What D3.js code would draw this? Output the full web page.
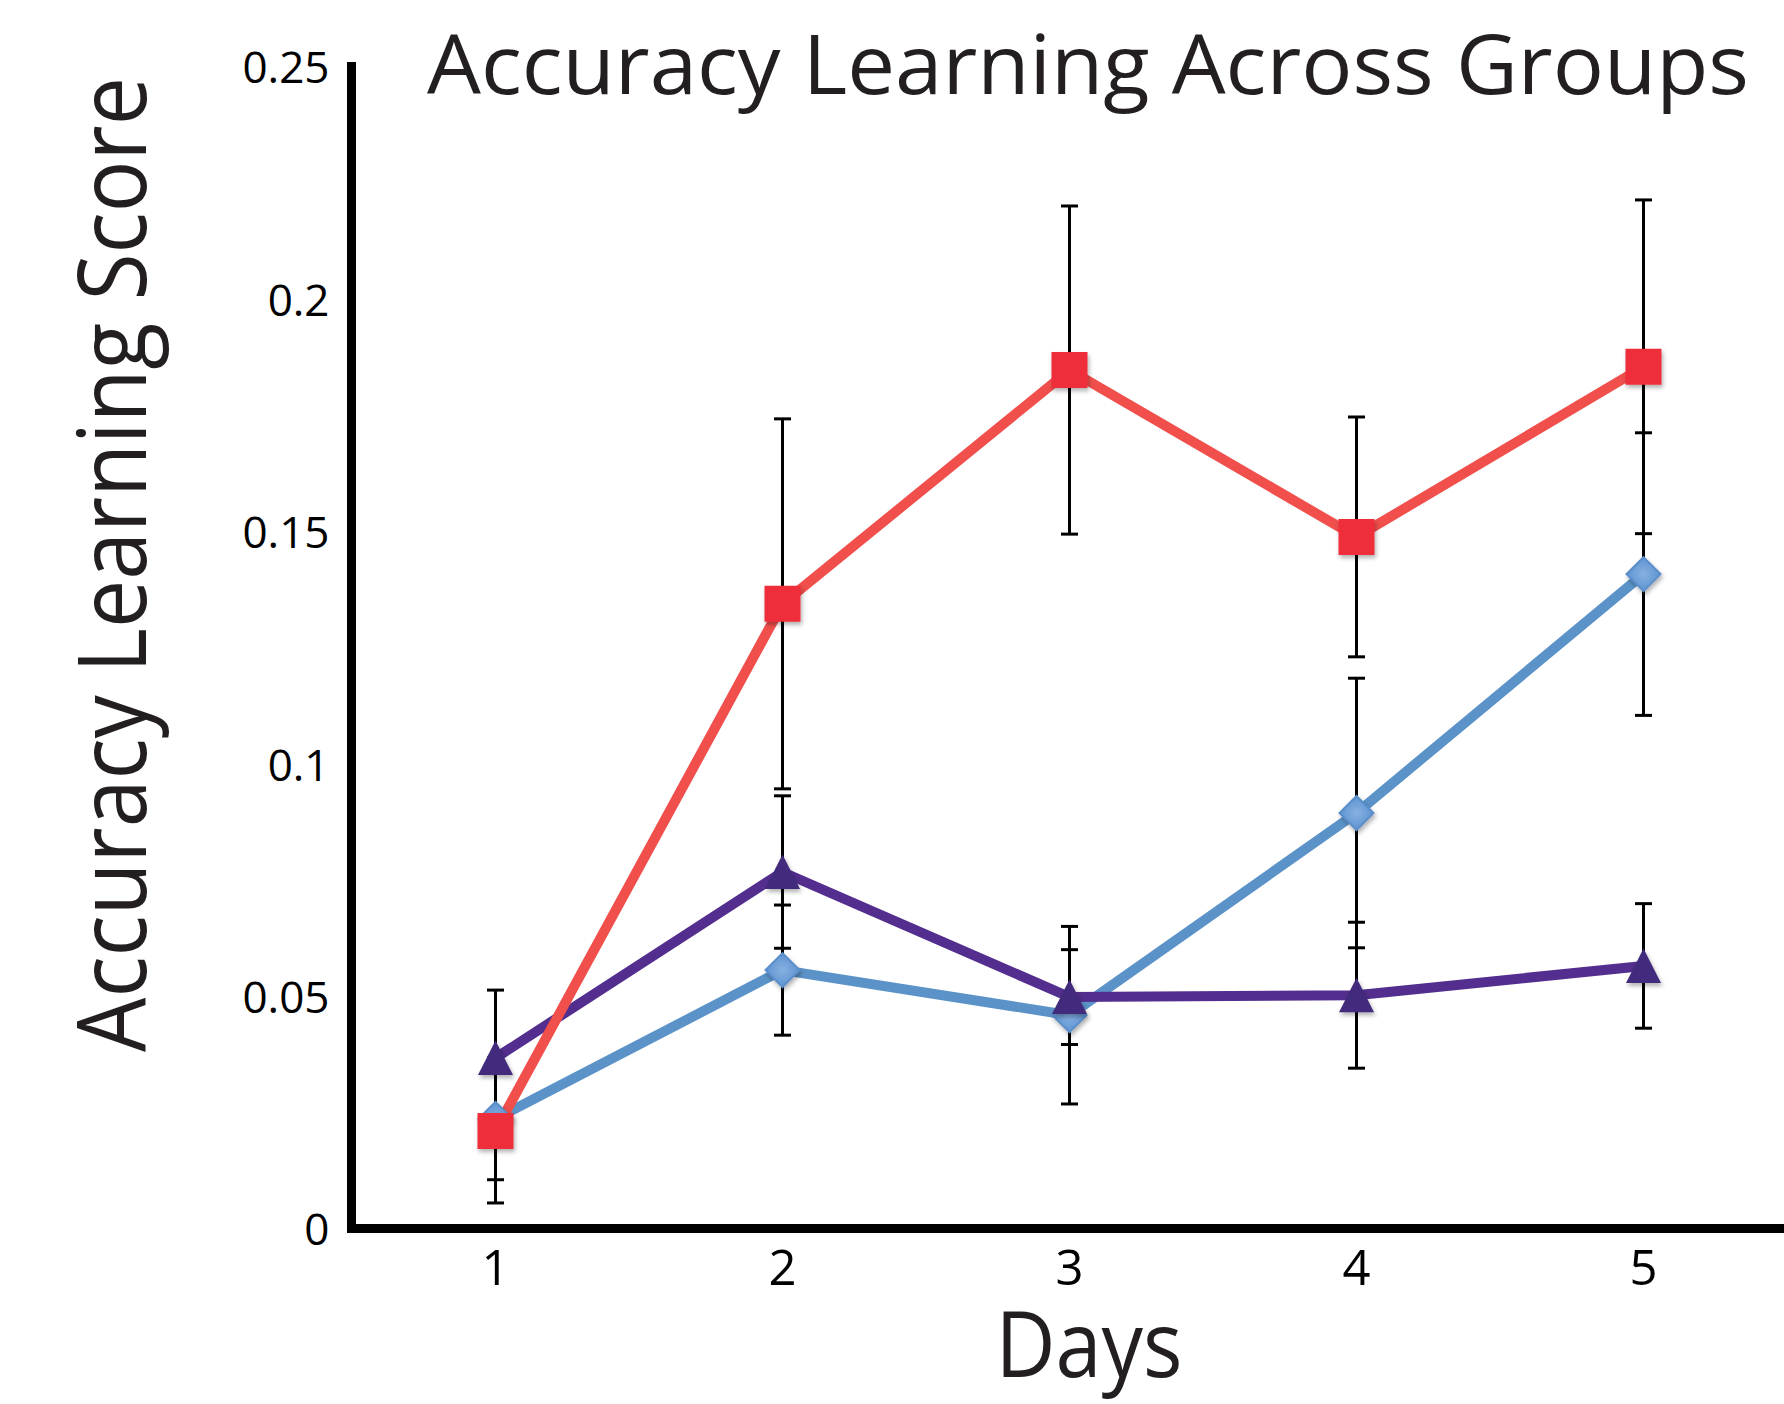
<!DOCTYPE html>
<html>
<head>
<meta charset="utf-8">
<script src="https://cdn.jsdelivr.net/npm/d3@7"></script>
<style>
  html, body { margin: 0; padding: 0; background: #fff; }
  svg { display: block; font-family: "Open Sans", "Noto Sans", sans-serif; }
</style>
</head>
<body>
<div id="chart"></div>
<script>
// Values
const days = [1, 2, 3, 4, 5];
const yTicks = [0, 0.05, 0.1, 0.15, 0.2, 0.25];
const yTickLabels = ['0', '0.05', '0.1', '0.15', '0.2', '0.25'];

const redMeans = [0.0211, 0.1345, 0.1848, 0.1489, 0.1855];
const redErr = [0.0155, 0.0398, 0.0353, 0.0258, 0.0359];
const blueMeans = [0.0237, 0.0557, 0.0460, 0.0895, 0.1409];
const blueErr = [0.0131, 0.0140, 0.0191, 0.0290, 0.0304];
const purpleMeans = [0.0368, 0.0768, 0.0499, 0.0503, 0.0566];
const purpleErr = [0.0146, 0.0164, 0.0102, 0.0157, 0.0134];

const width = 1784, height = 1404;
const fontFamily = '"Open Sans", "Noto Sans", sans-serif';

// Series, in drawing order (later ones sit on top)
const series = [
    { name: 'blue', means: blueMeans, err: blueErr, line: '#5b93c9', fill: 'url(#blueGrad)', stroke: '#5a8ecb', shape: 'diamond' },
    { name: 'purple', means: purpleMeans, err: purpleErr, line: '#532e8e', fill: '#432a7c', stroke: 'none', shape: 'triangle' },
    { name: 'red', means: redMeans, err: redErr, line: '#f04f4c', fill: '#ee2f3b', stroke: 'none', shape: 'square' }
];

const x = d3.scaleBand().domain(days).range([352, 1787]).paddingInner(0).paddingOuter(0);
const cx = d => x(d) + x.bandwidth() / 2;
const y = d3.scaleLinear().domain([0, 0.25]).range([1229, 67]);

const svg = d3.select('#chart')
    .append('svg')
    .attr('width', width)
    .attr('height', height)
    .attr('viewBox', [0, 0, width, height]);

const defs = svg.append('defs');
const shadow = defs.append('filter')
    .attr('id', 'shadow')
    .attr('x', '-50%').attr('y', '-50%')
    .attr('width', '200%').attr('height', '200%');
shadow.append('feDropShadow')
    .attr('dx', 1.5).attr('dy', 3)
    .attr('stdDeviation', 2)
    .attr('flood-color', '#000')
    .attr('flood-opacity', 0.3);

const grad = defs.append('radialGradient').attr('id', 'blueGrad');
grad.append('stop').attr('offset', '0%').attr('stop-color', '#86b1e2');
grad.append('stop').attr('offset', '100%').attr('stop-color', '#5e93d0');

// Marker shapes
function markerPath(shape) {
    const p = d3.path();
    if (shape === 'square') {
        p.rect(-18, -18, 36, 36);
    } else if (shape === 'diamond') {
        p.moveTo(0, -17); p.lineTo(17, 0); p.lineTo(0, 17); p.lineTo(-17, 0); p.closePath();
    } else {
        p.moveTo(0, -17.5); p.lineTo(17.5, 17); p.lineTo(-17.5, 17); p.closePath();
    }
    return p.toString();
}

// Axes
const yAxis = svg.append('g')
    .attr('transform', 'translate(351.5,0)')
    .call(d3.axisLeft(y).tickValues(yTicks).tickFormat((d, i) => yTickLabels[i]).tickSize(0).tickPadding(22))
    .attr('font-family', fontFamily)
    .attr('font-size', null);
yAxis.select('.domain').remove();
yAxis.selectAll('text')
    .attr('dy', '0.36em')
    .style('font-size', '44px')
    .style('fill', '#000');

const xAxis = svg.append('g')
    .attr('transform', 'translate(0,1228.5)')
    .call(d3.axisBottom(x).tickSize(0))
    .attr('font-family', fontFamily)
    .attr('font-size', null);
xAxis.select('.domain').remove();
xAxis.selectAll('text')
    .attr('y', 56)
    .attr('dy', null)
    .style('font-size', '49px')
    .style('fill', '#000');

svg.append('line')
    .attr('x1', 351.5).attr('x2', 351.5)
    .attr('y1', 62).attr('y2', 1233)
    .style('stroke', '#000').style('stroke-width', 9);
svg.append('line')
    .attr('x1', 347).attr('x2', width)
    .attr('y1', 1228.5).attr('y2', 1228.5)
    .style('stroke', '#000').style('stroke-width', 9);

// Lines
const line = d3.line()
    .x((d, i) => cx(days[i]))
    .y(d => y(d));

series.forEach(s => {
    svg.append('path')
        .datum(s.means)
        .attr('d', line)
        .style('fill', 'none')
        .style('stroke', s.line)
        .style('stroke-width', 10)
        .style('stroke-linejoin', 'miter');
});

// Error bars
series.forEach(s => {
    const g = svg.append('g').attr('class', 'err-' + s.name);
    days.forEach((d, i) => {
        const top = y(s.means[i] + s.err[i]);
        const bot = y(s.means[i] - s.err[i]);
        const xc = cx(d);
        g.append('line')
            .attr('x1', xc).attr('x2', xc)
            .attr('y1', top).attr('y2', bot)
            .style('stroke', '#000').style('stroke-width', 3);
        [top, bot].forEach(v => {
            g.append('line')
                .attr('x1', xc - 8.5).attr('x2', xc + 8.5)
                .attr('y1', v).attr('y2', v)
                .style('stroke', '#000').style('stroke-width', 3);
        });
    });
});

// Markers
series.forEach(s => {
    svg.append('g')
        .selectAll('path')
        .data(s.means)
        .join('path')
        .attr('d', markerPath(s.shape))
        .attr('transform', (d, i) => `translate(${cx(days[i])},${y(d)})`)
        .style('fill', s.fill)
        .style('stroke', s.stroke)
        .style('stroke-width', s.stroke === 'none' ? 0 : 2)
        .attr('filter', 'url(#shadow)');
});

// Titles
svg.append('text')
    .attr('x', 427)
    .attr('y', 94)
    .attr('textLength', 1322)
    .attr('lengthAdjust', 'spacingAndGlyphs')
    .style('font-size', '83px')
    .style('fill', '#231f20')
    .text('Accuracy Learning Across Groups');

svg.append('text')
    .attr('transform', 'translate(146,564.5) rotate(-90)')
    .attr('text-anchor', 'middle')
    .attr('textLength', 975)
    .attr('lengthAdjust', 'spacingAndGlyphs')
    .style('font-size', '95px')
    .style('fill', '#231f20')
    .text('Accuracy Learning Score');

svg.append('text')
    .attr('x', 1089)
    .attr('y', 1377)
    .attr('text-anchor', 'middle')
    .attr('textLength', 187)
    .attr('lengthAdjust', 'spacingAndGlyphs')
    .style('font-size', '91px')
    .style('fill', '#231f20')
    .text('Days');
</script>
</body>
</html>
